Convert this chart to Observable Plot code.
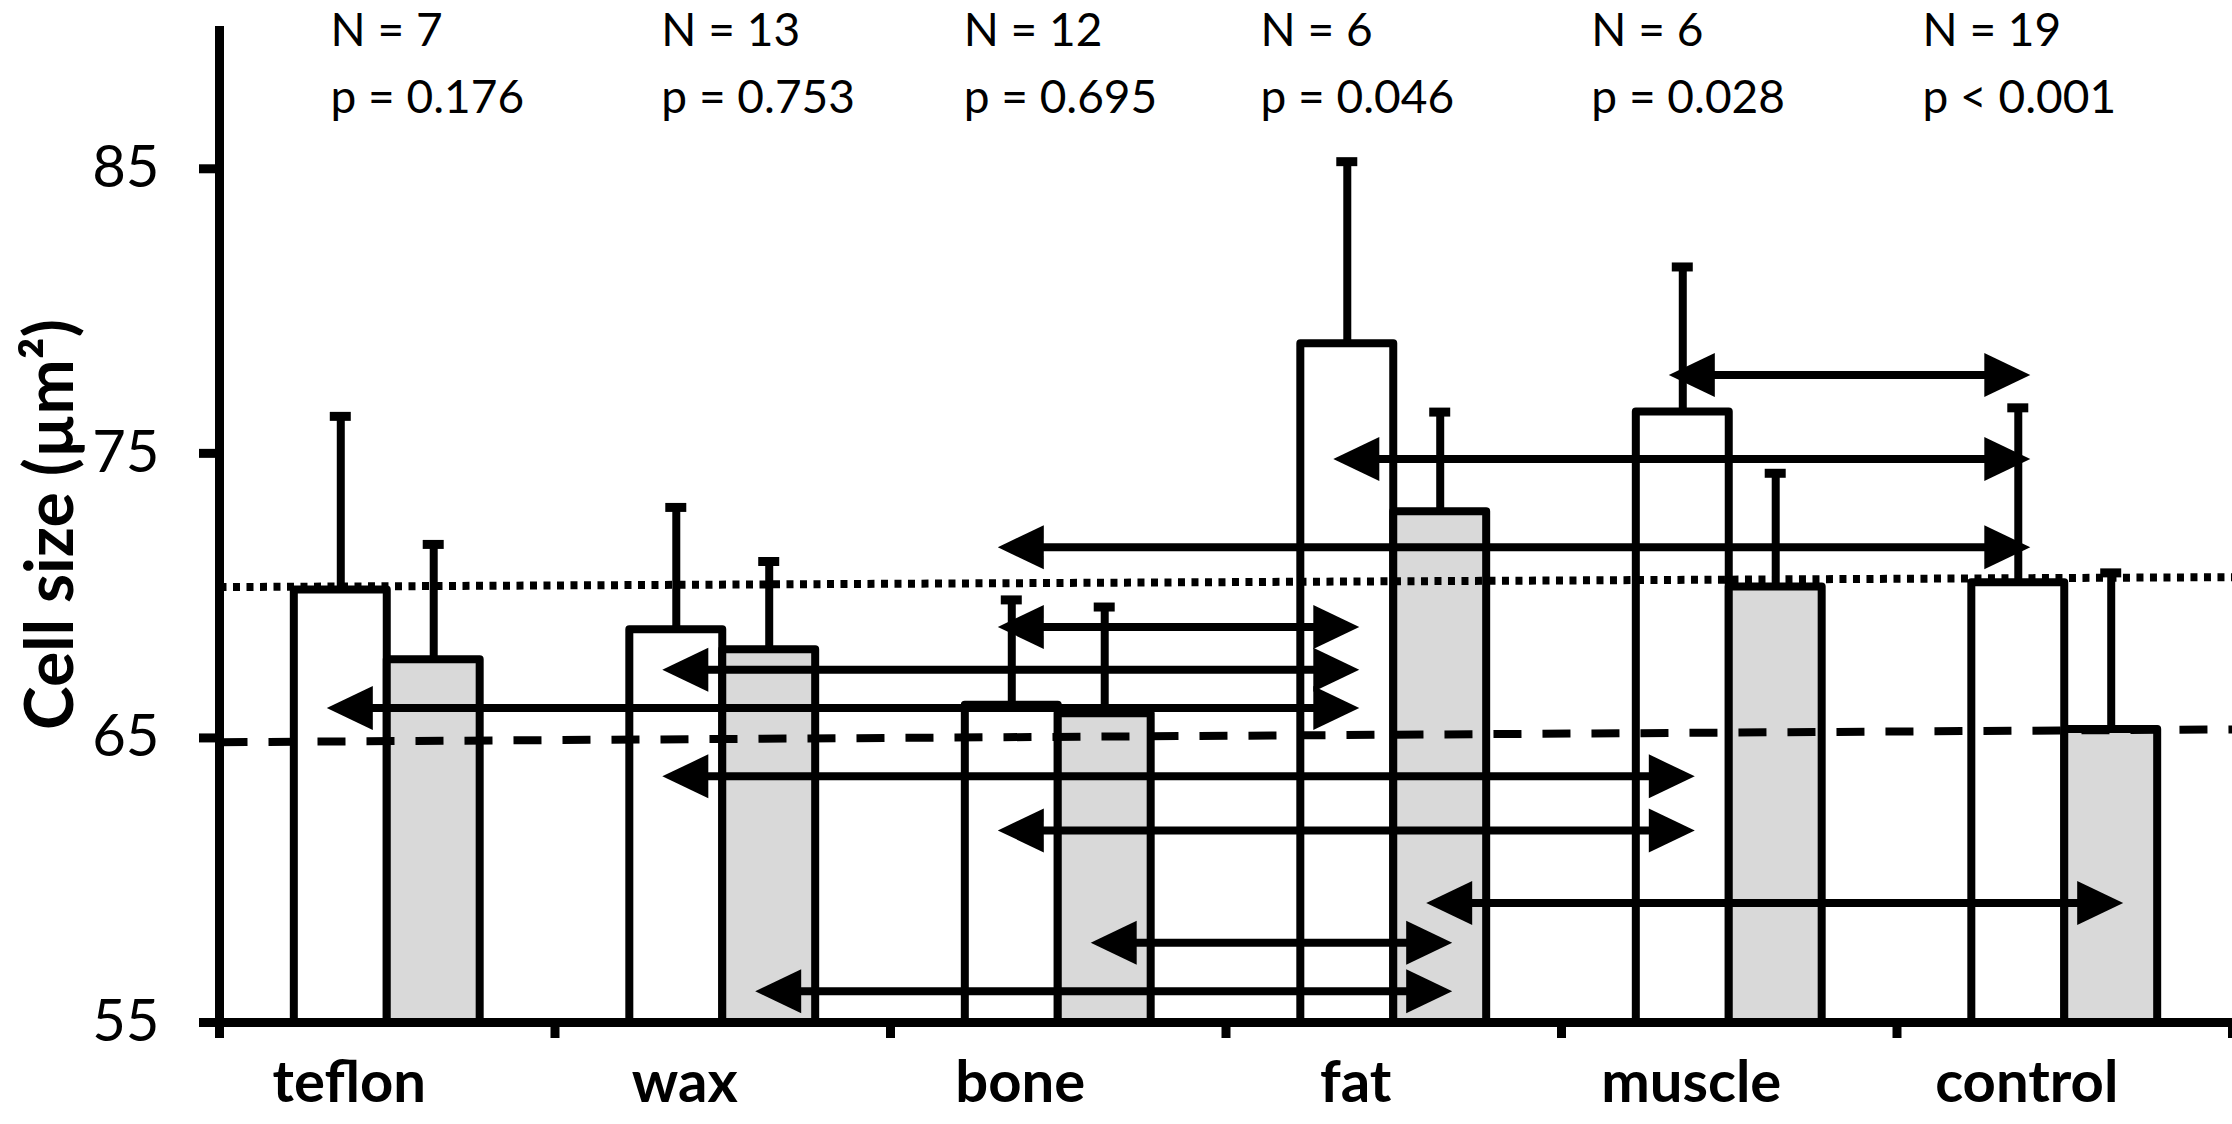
<!DOCTYPE html>
<html>
<head>
<meta charset="utf-8">
<script src="https://cdn.jsdelivr.net/npm/d3@7"></script>
<script src="https://cdn.jsdelivr.net/npm/@observablehq/plot@0.6"></script>
<style>
  html, body { margin: 0; padding: 0; background: #fff; overflow: hidden; }
  svg { display: block; }
</style>
</head>
<body>
<div id="chart"></div>
<script>
// ---- data ----
const categories = ["teflon", "wax", "bone", "fat", "muscle", "control"];
const nLabels = ["N = 7", "N = 13", "N = 12", "N = 6", "N = 6", "N = 19"];
const pLabels = ["p = 0.176", "p = 0.753", "p = 0.695", "p = 0.046", "p = 0.028", "p < 0.001"];
const whiteMean   = [70.2, 68.8, 66.15, 78.85, 76.45, 70.45];
const whiteErrTop = [76.3, 73.1, 69.85, 85.25, 81.55, 76.6];
const grayMean    = [67.75, 68.1, 65.85, 72.95, 70.3, 65.3];
const grayErrTop  = [71.8, 71.2, 69.6, 76.45, 74.3, 70.8];

// pairwise comparison arrows
const compFromCat = ["muscle", "fat", "bone", "bone", "wax", "teflon", "wax", "bone", "fat", "bone", "wax"];
const compFromGrp = ["white", "white", "white", "white", "white", "white", "white", "white", "gray", "gray", "gray"];
const compToCat   = ["control", "control", "control", "fat", "fat", "fat", "muscle", "muscle", "control", "fat", "fat"];
const compToGrp   = ["white", "white", "white", "white", "white", "white", "white", "white", "gray", "gray", "gray"];
const compLevel   = [77.75, 74.8, 71.7, 68.9, 67.4, 66.05, 63.65, 61.75, 59.2, 57.8, 56.1];

// reference lines (value at left edge, value at right edge)
const dottedLine = [70.3, 70.65];
const dashedLine = [64.85, 65.3];

const yTicks = [55, 65, 75, 85];

// ---- layout (not data) ----
const BAR = 0.277;                 // bar width as a fraction of a category band
const labelOffset = [0.331, 0.317, 0.218, 0.103, 0.089, 0.076]; // left edge of N/p text within band

const idx = c => categories.indexOf(c);
const barLeft = d => d.i + 0.5 - (d.group === "white" ? BAR : 0);
const barCenterOf = (cat, grp) => idx(cat) + 0.5 + (grp === "white" ? -BAR / 2 : BAR / 2);

const bars = categories.flatMap((cat, i) => [
  {cat, i, group: "white", value: whiteMean[i], err: whiteErrTop[i]},
  {cat, i, group: "gray", value: grayMean[i], err: grayErrTop[i]}
]);
const comps = compFromCat.map((f, k) => {
  const a = barCenterOf(f, compFromGrp[k]);
  const b = barCenterOf(compToCat[k], compToGrp[k]);
  return {x1: Math.min(a, b), x2: Math.max(a, b), y: compLevel[k]};
});
const refLines = [
  {kind: "dotted", left: dottedLine[0], right: dottedLine[1]},
  {kind: "dashed", left: dashedLine[0], right: dashedLine[1]}
];
const topLabels = categories.map((cat, i) => ({i, n: nLabels[i], p: pLabels[i]}));

const head = {
  draw(context, l) {
    context.moveTo(-22, 0);
    context.lineTo(0, -l);
    context.lineTo(22, 0);
    context.closePath();
  }
};

const SW = 9;

const chart = Plot.plot({
  width: 2232,
  height: 1124,
  marginLeft: 219,
  marginRight: 0,
  marginTop: 26,
  marginBottom: 102,
  x: {domain: [0, 6]},
  y: {domain: [55, 90]},
  style: {fontFamily: "Lato, 'Open Sans', sans-serif", background: "white", color: "black"},
  marks: [
    // bars
    Plot.rect(bars.filter(d => d.group === "white"), {
      x1: barLeft, x2: d => barLeft(d) + BAR, y1: 55, y2: "value",
      fill: "white", stroke: "black", strokeWidth: 8, strokeLinejoin: "round"
    }),
    Plot.rect(bars.filter(d => d.group === "gray"), {
      x1: barLeft, x2: d => barLeft(d) + BAR, y1: 55, y2: "value",
      fill: "#d9d9d9", stroke: "black", strokeWidth: 8, strokeLinejoin: "round"
    }),
    // reference lines
    Plot.link(refLines.filter(d => d.kind === "dotted"), {
      x1: 0, x2: 6, y1: "left", y2: "right",
      stroke: "black", strokeWidth: 8, strokeDasharray: "7,6.5"
    }),
    Plot.link(refLines.filter(d => d.kind === "dashed"), {
      x1: 0, x2: 6, y1: "left", y2: "right",
      stroke: "black", strokeWidth: 8, strokeDasharray: "28,21"
    }),
    // error bars
    Plot.ruleX(bars, {x: d => barLeft(d) + BAR / 2, y1: "value", y2: "err", strokeWidth: 8}),
    Plot.ruleY(bars, {
      y: "err", x1: d => barLeft(d) + BAR / 2, x2: d => barLeft(d) + BAR / 2,
      insetLeft: -10.5, insetRight: -10.5, strokeWidth: 9
    }),
    // comparison arrows
    Plot.ruleY(comps, {y: "y", x1: "x1", x2: "x2", strokeWidth: 8}),
    Plot.vector(comps, {
      x: "x2", y: "y", rotate: 90, length: 46, anchor: "end", shape: head,
      fill: "black", stroke: "none", dx: 12
    }),
    Plot.vector(comps, {
      x: "x1", y: "y", rotate: -90, length: 46, anchor: "end", shape: head,
      fill: "black", stroke: "none", dx: -14
    }),
    // axes
    Plot.ruleY([55], {strokeWidth: SW}),
    Plot.ruleX([0], {strokeWidth: SW}),
    Plot.axisY({
      ticks: yTicks, tickSize: 20, tickPadding: 40, strokeWidth: SW,
      fontSize: 58, label: null
    }),
    Plot.axisX({
      ticks: d3.range(categories.length + 1), tickSize: 16, strokeWidth: SW,
      tickFormat: () => "", label: null
    }),
    Plot.axisX({
      ticks: categories.map((c, i) => i + 0.5), tickSize: 0, tickPadding: 38,
      tickFormat: v => categories[Math.floor(v)], fontSize: 58, fontWeight: "bold",
      dx: -38, label: null
    }),
    // N and p annotations
    Plot.text(topLabels, {
      x: d => d.i + labelOffset[d.i], text: "n", frameAnchor: "top", dy: 5,
      textAnchor: "start", lineAnchor: "middle", fontSize: 46
    }),
    Plot.text(topLabels, {
      x: d => d.i + labelOffset[d.i], text: "p", frameAnchor: "top", dy: 72,
      textAnchor: "start", lineAnchor: "middle", fontSize: 46
    }),
    // y title
    Plot.text(["Cell size (µm²)"], {
      text: d => d, frameAnchor: "left", dx: -168, dy: 0, rotate: -90,
      textAnchor: "middle", lineAnchor: "middle", fontSize: 66, fontWeight: "bold"
    })
  ]
});
document.getElementById("chart").append(chart);
</script>
</body>
</html>
